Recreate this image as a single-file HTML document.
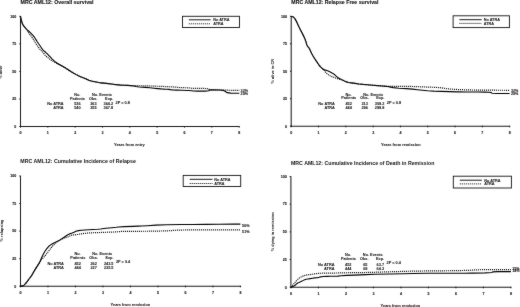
<!DOCTYPE html>
<html><head><meta charset="utf-8"><style>
html,body{margin:0;padding:0;background:#fff;overflow:hidden}
svg{display:block;will-change:transform}
</style></head><body>
<svg width="520" height="307" viewBox="0 0 520 307" style="font-family:'Liberation Sans', sans-serif">
<defs><filter id="soft" x="0" y="0" width="520" height="307" filterUnits="userSpaceOnUse" color-interpolation-filters="sRGB"><feConvolveMatrix order="3" kernelMatrix="1 2 1 2 36 2 1 2 1" edgeMode="duplicate"/></filter></defs>
<g filter="url(#soft)">
<rect width="520" height="307" fill="#fff"/>
<line x1="20.50" y1="16.00" x2="20.50" y2="126.90" stroke="#1a1a1a" stroke-width="1.05" />
<line x1="20.10" y1="126.50" x2="239.44" y2="126.50" stroke="#1a1a1a" stroke-width="1.05" />
<line x1="19.30" y1="126.50" x2="20.50" y2="126.50" stroke="#111" stroke-width="1.0" />
<text x="16.30" y="127.80" font-size="3.6" text-anchor="end" font-weight="bold" fill="#111" stroke="#111" stroke-width="0.1" >0</text>
<line x1="19.30" y1="98.95" x2="20.50" y2="98.95" stroke="#111" stroke-width="1.0" />
<text x="16.30" y="100.25" font-size="3.6" text-anchor="end" font-weight="bold" fill="#111" stroke="#111" stroke-width="0.1" >25</text>
<line x1="19.30" y1="71.40" x2="20.50" y2="71.40" stroke="#111" stroke-width="1.0" />
<text x="16.30" y="72.70" font-size="3.6" text-anchor="end" font-weight="bold" fill="#111" stroke="#111" stroke-width="0.1" >50</text>
<line x1="19.30" y1="43.85" x2="20.50" y2="43.85" stroke="#111" stroke-width="1.0" />
<text x="16.30" y="45.15" font-size="3.6" text-anchor="end" font-weight="bold" fill="#111" stroke="#111" stroke-width="0.1" >75</text>
<line x1="19.30" y1="16.30" x2="20.50" y2="16.30" stroke="#111" stroke-width="1.0" />
<text x="16.30" y="17.60" font-size="3.6" text-anchor="end" font-weight="bold" fill="#111" stroke="#111" stroke-width="0.1" >100</text>
<line x1="20.50" y1="126.00" x2="20.50" y2="127.60" stroke="#111" stroke-width="1.0" />
<text x="20.50" y="133.90" font-size="3.6" text-anchor="middle" font-weight="bold" fill="#111" stroke="#111" stroke-width="0.12" >0</text>
<line x1="47.83" y1="126.00" x2="47.83" y2="127.60" stroke="#111" stroke-width="1.0" />
<text x="47.83" y="133.90" font-size="3.6" text-anchor="middle" font-weight="bold" fill="#111" stroke="#111" stroke-width="0.12" >1</text>
<line x1="75.16" y1="126.00" x2="75.16" y2="127.60" stroke="#111" stroke-width="1.0" />
<text x="75.16" y="133.90" font-size="3.6" text-anchor="middle" font-weight="bold" fill="#111" stroke="#111" stroke-width="0.12" >2</text>
<line x1="102.49" y1="126.00" x2="102.49" y2="127.60" stroke="#111" stroke-width="1.0" />
<text x="102.49" y="133.90" font-size="3.6" text-anchor="middle" font-weight="bold" fill="#111" stroke="#111" stroke-width="0.12" >3</text>
<line x1="129.82" y1="126.00" x2="129.82" y2="127.60" stroke="#111" stroke-width="1.0" />
<text x="129.82" y="133.90" font-size="3.6" text-anchor="middle" font-weight="bold" fill="#111" stroke="#111" stroke-width="0.12" >4</text>
<line x1="157.15" y1="126.00" x2="157.15" y2="127.60" stroke="#111" stroke-width="1.0" />
<text x="157.15" y="133.90" font-size="3.6" text-anchor="middle" font-weight="bold" fill="#111" stroke="#111" stroke-width="0.12" >5</text>
<line x1="184.48" y1="126.00" x2="184.48" y2="127.60" stroke="#111" stroke-width="1.0" />
<text x="184.48" y="133.90" font-size="3.6" text-anchor="middle" font-weight="bold" fill="#111" stroke="#111" stroke-width="0.12" >6</text>
<line x1="211.81" y1="126.00" x2="211.81" y2="127.60" stroke="#111" stroke-width="1.0" />
<text x="211.81" y="133.90" font-size="3.6" text-anchor="middle" font-weight="bold" fill="#111" stroke="#111" stroke-width="0.12" >7</text>
<line x1="239.14" y1="126.00" x2="239.14" y2="127.60" stroke="#111" stroke-width="1.0" />
<text x="239.14" y="133.90" font-size="3.6" text-anchor="middle" font-weight="bold" fill="#111" stroke="#111" stroke-width="0.12" >8</text>
<text x="20.50" y="3.80" font-size="5.28" text-anchor="start" font-weight="bold" fill="#111" stroke="#111" stroke-width="0.1" >MRC AML12: Overall survival</text>
<text x="114.00" y="146.10" font-size="3.9" text-anchor="start" font-weight="bold" fill="#111" stroke="#111" stroke-width="0.06" >Years from entry</text>
<text x="2.20" y="72.10" font-size="3.9" text-anchor="middle" font-weight="bold" fill="#111" stroke="#111" stroke-width="0" transform="rotate(-90 2.20 72.10)">% alive</text>
<rect x="182.50" y="16.30" width="57.00" height="11.20" fill="#fff" stroke="#111" stroke-width="0.9"/>
<line x1="188.80" y1="19.80" x2="210.70" y2="19.80" stroke="#000" stroke-width="0.9" />
<line x1="188.80" y1="23.80" x2="210.70" y2="23.80" stroke="#000" stroke-width="0.9" stroke-dasharray="1.1 0.9"/>
<text x="213.20" y="21.20" font-size="3.8" text-anchor="start" font-weight="bold" fill="#111" stroke="#111" stroke-width="0.06" >No ATRA</text>
<text x="213.20" y="25.20" font-size="3.8" text-anchor="start" font-weight="bold" fill="#111" stroke="#111" stroke-width="0.06" >ATRA</text>
<polyline points="20.50,16.40 20.68,17.17 21.02,18.73 21.45,20.45 21.95,22.35 22.45,23.80 22.95,24.80 23.62,25.80 24.47,26.80 25.35,27.83 26.25,28.87 27.22,29.85 28.28,30.75 29.30,31.67 30.30,32.62 31.53,33.85 32.98,35.35 34.15,36.83 35.05,38.27 36.10,39.92 37.30,41.78 38.62,43.73 40.07,45.77 41.22,47.52 42.08,48.98 43.10,50.18 44.30,51.12 45.62,52.28 47.07,53.62 48.70,55.27 50.50,57.23 51.97,58.78 53.13,59.92 54.43,61.10 55.88,62.30 57.35,63.32 58.85,64.17 60.78,65.25 63.12,66.55 65.72,68.15 68.58,70.05 71.25,71.75 73.75,73.25 76.25,74.62 78.75,75.88 81.25,77.00 83.75,78.00 86.25,79.08 88.75,80.22 91.25,81.05 93.75,81.55 96.25,82.05 98.75,82.55 101.25,82.92 103.75,83.17 106.25,83.42 108.75,83.67 111.25,83.97 113.75,84.33 116.25,84.62 118.75,84.88 121.25,85.08 123.75,85.22 126.92,85.42 130.77,85.67 133.65,86.05 135.55,86.55 139.38,87.00 145.12,87.40 149.95,87.80 153.85,88.20 157.60,88.58 161.20,88.92 164.35,89.12 167.05,89.18 168.98,89.35 170.12,89.65 172.62,89.90 176.48,90.10 181.68,90.30 188.22,90.50 192.07,90.72 193.23,90.97 197.55,91.10 205.05,91.10 208.93,90.77 209.18,90.12 212.73,89.88 219.57,90.02 223.50,90.42 224.50,91.08 225.72,91.83 227.18,92.67 230.75,93.12 236.45,93.18 239.30,93.20" fill="none" stroke="#000" stroke-width="1.1" stroke-linejoin="round"  opacity="1"/>
<polyline points="20.50,16.40 20.68,17.17 21.02,18.73 21.45,20.45 21.95,22.35 22.45,23.80 22.95,24.80 23.62,25.80 24.47,26.80 25.35,27.88 26.25,29.03 27.22,30.48 28.28,32.23 29.38,33.85 30.53,35.35 31.70,36.98 32.90,38.73 34.12,40.68 35.38,42.82 36.62,44.77 37.88,46.52 39.12,48.20 40.38,49.80 41.38,50.83 42.12,51.27 43.10,52.45 44.30,54.35 45.65,55.87 47.15,57.03 48.62,58.20 50.07,59.40 51.52,60.42 52.98,61.28 54.43,62.08 55.88,62.83 57.35,63.60 58.85,64.40 60.78,65.40 63.12,66.60 65.72,68.15 68.58,70.05 71.25,71.75 73.75,73.25 76.25,74.62 78.75,75.88 81.25,77.00 83.75,78.00 86.25,79.08 88.75,80.22 91.25,81.05 93.75,81.55 96.25,82.05 98.75,82.55 101.25,82.92 103.75,83.17 106.25,83.42 108.75,83.67 111.25,83.97 113.75,84.33 116.25,84.62 118.75,84.88 121.25,85.08 123.75,85.22 126.92,85.40 130.77,85.60 133.65,85.70 135.55,85.70 139.38,85.75 145.12,85.85 152.25,86.05 160.75,86.35 167.75,86.65 173.25,86.95 176.60,87.20 177.80,87.40 181.30,87.60 187.10,87.80 190.55,88.03 191.65,88.28 196.35,88.43 204.65,88.47 208.93,88.80 209.18,89.40 212.73,89.80 219.57,90.00 224.00,90.12 226.00,90.18 230.07,90.25 236.23,90.35 239.30,90.40" fill="none" stroke="#111" stroke-width="1.2" stroke-linejoin="round" stroke-dasharray="1.1 0.9" opacity="1"/>
<text x="240.60" y="91.80" font-size="3.7" text-anchor="start" font-weight="bold" fill="#111" stroke="#111" stroke-width="0.06" >32%</text>
<text x="240.60" y="94.90" font-size="3.7" text-anchor="start" font-weight="bold" fill="#111" stroke="#111" stroke-width="0.06" >29%</text>
<text x="77.30" y="95.80" font-size="3.85" text-anchor="middle" font-weight="bold" fill="#111" stroke="#111" stroke-width="0.06" >No.</text>
<text x="77.50" y="99.50" font-size="3.85" text-anchor="middle" font-weight="bold" fill="#111" stroke="#111" stroke-width="0.06" >Patients</text>
<text x="101.90" y="95.80" font-size="3.85" text-anchor="middle" font-weight="bold" fill="#111" stroke="#111" stroke-width="0.06" >No. Events</text>
<text x="93.30" y="99.50" font-size="3.85" text-anchor="middle" font-weight="bold" fill="#111" stroke="#111" stroke-width="0.06" >Obs.</text>
<text x="113.20" y="99.50" font-size="3.85" text-anchor="end" font-weight="bold" fill="#111" stroke="#111" stroke-width="0.06" >Exp.</text>
<text x="63.60" y="105.20" font-size="3.85" text-anchor="end" font-weight="bold" fill="#111" stroke="#111" stroke-width="0.06" >No ATRA</text>
<text x="63.60" y="109.40" font-size="3.85" text-anchor="end" font-weight="bold" fill="#111" stroke="#111" stroke-width="0.06" >ATRA</text>
<text x="80.60" y="105.20" font-size="3.85" text-anchor="end" font-weight="bold" fill="#111" stroke="#111" stroke-width="0.06" >536</text>
<text x="96.60" y="105.20" font-size="3.85" text-anchor="end" font-weight="bold" fill="#111" stroke="#111" stroke-width="0.06" >363</text>
<text x="113.20" y="105.20" font-size="3.85" text-anchor="end" font-weight="bold" fill="#111" stroke="#111" stroke-width="0.06" >364.2</text>
<text x="80.60" y="109.40" font-size="3.85" text-anchor="end" font-weight="bold" fill="#111" stroke="#111" stroke-width="0.06" >540</text>
<text x="96.60" y="109.40" font-size="3.85" text-anchor="end" font-weight="bold" fill="#111" stroke="#111" stroke-width="0.06" >355</text>
<text x="113.20" y="109.40" font-size="3.85" text-anchor="end" font-weight="bold" fill="#111" stroke="#111" stroke-width="0.06" >367.8</text>
<text x="115.60" y="103.80" font-size="3.85" text-anchor="start" font-weight="bold" fill="#111" stroke="#111" stroke-width="0.06" >2P = 0.8</text>
<line x1="291.20" y1="16.00" x2="291.20" y2="126.60" stroke="#1a1a1a" stroke-width="1.05" />
<line x1="290.80" y1="126.20" x2="509.98" y2="126.20" stroke="#1a1a1a" stroke-width="1.05" />
<line x1="290.00" y1="126.20" x2="291.20" y2="126.20" stroke="#111" stroke-width="1.0" />
<text x="287.00" y="127.50" font-size="3.6" text-anchor="end" font-weight="bold" fill="#111" stroke="#111" stroke-width="0.1" >0</text>
<line x1="290.00" y1="98.72" x2="291.20" y2="98.72" stroke="#111" stroke-width="1.0" />
<text x="287.00" y="100.02" font-size="3.6" text-anchor="end" font-weight="bold" fill="#111" stroke="#111" stroke-width="0.1" >25</text>
<line x1="290.00" y1="71.25" x2="291.20" y2="71.25" stroke="#111" stroke-width="1.0" />
<text x="287.00" y="72.55" font-size="3.6" text-anchor="end" font-weight="bold" fill="#111" stroke="#111" stroke-width="0.1" >50</text>
<line x1="290.00" y1="43.77" x2="291.20" y2="43.77" stroke="#111" stroke-width="1.0" />
<text x="287.00" y="45.07" font-size="3.6" text-anchor="end" font-weight="bold" fill="#111" stroke="#111" stroke-width="0.1" >75</text>
<line x1="290.00" y1="16.30" x2="291.20" y2="16.30" stroke="#111" stroke-width="1.0" />
<text x="287.00" y="17.60" font-size="3.6" text-anchor="end" font-weight="bold" fill="#111" stroke="#111" stroke-width="0.1" >100</text>
<line x1="291.20" y1="125.70" x2="291.20" y2="127.30" stroke="#111" stroke-width="1.0" />
<text x="291.20" y="133.60" font-size="3.6" text-anchor="middle" font-weight="bold" fill="#111" stroke="#111" stroke-width="0.12" >0</text>
<line x1="318.51" y1="125.70" x2="318.51" y2="127.30" stroke="#111" stroke-width="1.0" />
<text x="318.51" y="133.60" font-size="3.6" text-anchor="middle" font-weight="bold" fill="#111" stroke="#111" stroke-width="0.12" >1</text>
<line x1="345.82" y1="125.70" x2="345.82" y2="127.30" stroke="#111" stroke-width="1.0" />
<text x="345.82" y="133.60" font-size="3.6" text-anchor="middle" font-weight="bold" fill="#111" stroke="#111" stroke-width="0.12" >2</text>
<line x1="373.13" y1="125.70" x2="373.13" y2="127.30" stroke="#111" stroke-width="1.0" />
<text x="373.13" y="133.60" font-size="3.6" text-anchor="middle" font-weight="bold" fill="#111" stroke="#111" stroke-width="0.12" >3</text>
<line x1="400.44" y1="125.70" x2="400.44" y2="127.30" stroke="#111" stroke-width="1.0" />
<text x="400.44" y="133.60" font-size="3.6" text-anchor="middle" font-weight="bold" fill="#111" stroke="#111" stroke-width="0.12" >4</text>
<line x1="427.75" y1="125.70" x2="427.75" y2="127.30" stroke="#111" stroke-width="1.0" />
<text x="427.75" y="133.60" font-size="3.6" text-anchor="middle" font-weight="bold" fill="#111" stroke="#111" stroke-width="0.12" >5</text>
<line x1="455.06" y1="125.70" x2="455.06" y2="127.30" stroke="#111" stroke-width="1.0" />
<text x="455.06" y="133.60" font-size="3.6" text-anchor="middle" font-weight="bold" fill="#111" stroke="#111" stroke-width="0.12" >6</text>
<line x1="482.37" y1="125.70" x2="482.37" y2="127.30" stroke="#111" stroke-width="1.0" />
<text x="482.37" y="133.60" font-size="3.6" text-anchor="middle" font-weight="bold" fill="#111" stroke="#111" stroke-width="0.12" >7</text>
<line x1="509.68" y1="125.70" x2="509.68" y2="127.30" stroke="#111" stroke-width="1.0" />
<text x="509.68" y="133.60" font-size="3.6" text-anchor="middle" font-weight="bold" fill="#111" stroke="#111" stroke-width="0.12" >8</text>
<text x="291.30" y="3.80" font-size="5.22" text-anchor="start" font-weight="bold" fill="#111" stroke="#111" stroke-width="0.1" >MRC AML12: Relapse Free survival</text>
<text x="381.00" y="145.70" font-size="3.9" text-anchor="start" font-weight="bold" fill="#111" stroke="#111" stroke-width="0.06" >Years from remission</text>
<text x="274.10" y="71.20" font-size="3.9" text-anchor="middle" font-weight="bold" fill="#111" stroke="#111" stroke-width="0" transform="rotate(-90 274.10 71.20)">% alive in CR</text>
<rect x="453.10" y="15.80" width="56.30" height="11.80" fill="#fff" stroke="#111" stroke-width="0.9"/>
<line x1="459.40" y1="19.70" x2="481.70" y2="19.70" stroke="#000" stroke-width="0.9" />
<line x1="459.40" y1="23.40" x2="481.70" y2="23.40" stroke="#000" stroke-width="0.9" stroke-dasharray="1.1 0.9"/>
<text x="483.70" y="21.10" font-size="3.8" text-anchor="start" font-weight="bold" fill="#111" stroke="#111" stroke-width="0.06" >No ATRA</text>
<text x="483.70" y="24.80" font-size="3.8" text-anchor="start" font-weight="bold" fill="#111" stroke="#111" stroke-width="0.06" >ATRA</text>
<polyline points="291.20,16.40 291.75,16.52 292.85,16.77 293.90,17.52 294.90,18.77 295.88,20.38 296.83,22.33 297.93,24.65 299.18,27.35 300.40,29.80 301.60,32.00 302.85,34.48 304.15,37.23 305.15,39.53 305.85,41.38 306.35,43.05 306.65,44.55 307.43,46.05 308.68,47.55 309.78,49.40 310.72,51.60 311.82,53.80 313.07,56.00 314.42,58.20 315.88,60.40 317.35,62.60 318.85,64.80 320.08,66.38 321.02,67.32 322.07,68.27 323.23,69.23 324.53,69.85 325.97,70.15 327.57,70.72 329.32,71.58 331.10,72.47 332.90,73.43 334.78,74.80 336.72,76.60 338.65,78.03 340.55,79.07 342.88,80.27 345.62,81.62 348.50,82.50 351.50,82.90 354.95,83.38 358.85,83.93 363.10,84.40 367.70,84.80 372.50,85.20 377.50,85.60 382.00,85.97 386.00,86.33 389.75,86.88 393.25,87.62 398.75,88.20 406.25,88.60 412.50,89.10 417.50,89.70 422.50,90.25 427.50,90.75 433.75,91.12 441.25,91.38 449.25,91.62 457.75,91.88 467.25,92.00 477.75,92.00 485.00,92.08 489.00,92.22 491.32,92.60 491.98,93.20 496.62,93.50 505.28,93.50 509.60,93.50" fill="none" stroke="#000" stroke-width="1.1" stroke-linejoin="round"  opacity="1"/>
<polyline points="291.20,16.40 291.75,16.52 292.85,16.77 293.90,17.52 294.90,18.77 295.88,20.38 296.83,22.33 297.93,24.65 299.18,27.35 300.40,29.80 301.60,32.00 302.85,34.48 304.15,37.23 305.15,39.53 305.85,41.38 306.35,43.05 306.65,44.55 307.43,46.05 308.68,47.55 309.78,49.40 310.72,51.60 311.82,53.80 313.07,56.00 314.42,58.20 315.88,60.40 317.35,62.60 318.85,64.80 320.08,66.38 321.02,67.32 322.07,68.32 323.23,69.38 324.23,70.50 325.07,71.70 326.25,72.97 327.75,74.33 329.23,75.35 330.67,76.05 332.00,76.65 333.20,77.15 334.78,77.75 336.72,78.45 338.65,79.00 340.55,79.40 342.88,80.27 345.62,81.62 348.50,82.50 351.50,82.90 354.95,83.38 358.85,83.93 363.10,84.40 367.70,84.80 372.50,85.20 377.50,85.60 382.00,85.95 386.00,86.25 389.75,86.38 393.25,86.32 399.25,86.32 407.75,86.38 414.50,86.53 419.50,86.78 426.50,87.05 435.50,87.35 442.00,87.88 446.00,88.62 451.50,89.17 458.50,89.53 465.50,89.80 472.50,90.00 484.40,90.15 501.20,90.25 509.60,90.30" fill="none" stroke="#111" stroke-width="1.2" stroke-linejoin="round" stroke-dasharray="1.1 0.9" opacity="1"/>
<text x="510.90" y="92.00" font-size="3.7" text-anchor="start" font-weight="bold" fill="#111" stroke="#111" stroke-width="0.06" >32%</text>
<text x="510.90" y="95.00" font-size="3.7" text-anchor="start" font-weight="bold" fill="#111" stroke="#111" stroke-width="0.06" >29%</text>
<text x="348.50" y="95.55" font-size="3.85" text-anchor="middle" font-weight="bold" fill="#111" stroke="#111" stroke-width="0.06" >No.</text>
<text x="348.70" y="99.25" font-size="3.85" text-anchor="middle" font-weight="bold" fill="#111" stroke="#111" stroke-width="0.06" >Patients</text>
<text x="373.10" y="95.55" font-size="3.85" text-anchor="middle" font-weight="bold" fill="#111" stroke="#111" stroke-width="0.06" >No. Events</text>
<text x="364.50" y="99.25" font-size="3.85" text-anchor="middle" font-weight="bold" fill="#111" stroke="#111" stroke-width="0.06" >Obs.</text>
<text x="384.40" y="99.25" font-size="3.85" text-anchor="end" font-weight="bold" fill="#111" stroke="#111" stroke-width="0.06" >Exp.</text>
<text x="334.80" y="104.95" font-size="3.85" text-anchor="end" font-weight="bold" fill="#111" stroke="#111" stroke-width="0.06" >No ATRA</text>
<text x="334.80" y="109.15" font-size="3.85" text-anchor="end" font-weight="bold" fill="#111" stroke="#111" stroke-width="0.06" >ATRA</text>
<text x="351.80" y="104.95" font-size="3.85" text-anchor="end" font-weight="bold" fill="#111" stroke="#111" stroke-width="0.06" >452</text>
<text x="367.80" y="104.95" font-size="3.85" text-anchor="end" font-weight="bold" fill="#111" stroke="#111" stroke-width="0.06" >313</text>
<text x="384.40" y="104.95" font-size="3.85" text-anchor="end" font-weight="bold" fill="#111" stroke="#111" stroke-width="0.06" >309.2</text>
<text x="351.80" y="109.15" font-size="3.85" text-anchor="end" font-weight="bold" fill="#111" stroke="#111" stroke-width="0.06" >444</text>
<text x="367.80" y="109.15" font-size="3.85" text-anchor="end" font-weight="bold" fill="#111" stroke="#111" stroke-width="0.06" >296</text>
<text x="384.40" y="109.15" font-size="3.85" text-anchor="end" font-weight="bold" fill="#111" stroke="#111" stroke-width="0.06" >299.8</text>
<text x="386.80" y="103.55" font-size="3.85" text-anchor="start" font-weight="bold" fill="#111" stroke="#111" stroke-width="0.06" >2P = 0.8</text>
<line x1="20.50" y1="175.70" x2="20.50" y2="286.60" stroke="#1a1a1a" stroke-width="1.05" />
<line x1="20.10" y1="286.20" x2="240.72" y2="286.20" stroke="#1a1a1a" stroke-width="1.05" />
<line x1="19.30" y1="286.20" x2="20.50" y2="286.20" stroke="#111" stroke-width="1.0" />
<text x="16.30" y="287.50" font-size="3.6" text-anchor="end" font-weight="bold" fill="#111" stroke="#111" stroke-width="0.1" >0</text>
<line x1="19.30" y1="258.65" x2="20.50" y2="258.65" stroke="#111" stroke-width="1.0" />
<text x="16.30" y="259.95" font-size="3.6" text-anchor="end" font-weight="bold" fill="#111" stroke="#111" stroke-width="0.1" >25</text>
<line x1="19.30" y1="231.10" x2="20.50" y2="231.10" stroke="#111" stroke-width="1.0" />
<text x="16.30" y="232.40" font-size="3.6" text-anchor="end" font-weight="bold" fill="#111" stroke="#111" stroke-width="0.1" >50</text>
<line x1="19.30" y1="203.55" x2="20.50" y2="203.55" stroke="#111" stroke-width="1.0" />
<text x="16.30" y="204.85" font-size="3.6" text-anchor="end" font-weight="bold" fill="#111" stroke="#111" stroke-width="0.1" >75</text>
<line x1="19.30" y1="176.00" x2="20.50" y2="176.00" stroke="#111" stroke-width="1.0" />
<text x="16.30" y="177.30" font-size="3.6" text-anchor="end" font-weight="bold" fill="#111" stroke="#111" stroke-width="0.1" >100</text>
<line x1="20.50" y1="285.70" x2="20.50" y2="287.30" stroke="#111" stroke-width="1.0" />
<text x="20.50" y="293.60" font-size="3.6" text-anchor="middle" font-weight="bold" fill="#111" stroke="#111" stroke-width="0.12" >0</text>
<line x1="47.99" y1="285.70" x2="47.99" y2="287.30" stroke="#111" stroke-width="1.0" />
<text x="47.99" y="293.60" font-size="3.6" text-anchor="middle" font-weight="bold" fill="#111" stroke="#111" stroke-width="0.12" >1</text>
<line x1="75.48" y1="285.70" x2="75.48" y2="287.30" stroke="#111" stroke-width="1.0" />
<text x="75.48" y="293.60" font-size="3.6" text-anchor="middle" font-weight="bold" fill="#111" stroke="#111" stroke-width="0.12" >2</text>
<line x1="102.97" y1="285.70" x2="102.97" y2="287.30" stroke="#111" stroke-width="1.0" />
<text x="102.97" y="293.60" font-size="3.6" text-anchor="middle" font-weight="bold" fill="#111" stroke="#111" stroke-width="0.12" >3</text>
<line x1="130.46" y1="285.70" x2="130.46" y2="287.30" stroke="#111" stroke-width="1.0" />
<text x="130.46" y="293.60" font-size="3.6" text-anchor="middle" font-weight="bold" fill="#111" stroke="#111" stroke-width="0.12" >4</text>
<line x1="157.95" y1="285.70" x2="157.95" y2="287.30" stroke="#111" stroke-width="1.0" />
<text x="157.95" y="293.60" font-size="3.6" text-anchor="middle" font-weight="bold" fill="#111" stroke="#111" stroke-width="0.12" >5</text>
<line x1="185.44" y1="285.70" x2="185.44" y2="287.30" stroke="#111" stroke-width="1.0" />
<text x="185.44" y="293.60" font-size="3.6" text-anchor="middle" font-weight="bold" fill="#111" stroke="#111" stroke-width="0.12" >6</text>
<line x1="212.93" y1="285.70" x2="212.93" y2="287.30" stroke="#111" stroke-width="1.0" />
<text x="212.93" y="293.60" font-size="3.6" text-anchor="middle" font-weight="bold" fill="#111" stroke="#111" stroke-width="0.12" >7</text>
<line x1="240.42" y1="285.70" x2="240.42" y2="287.30" stroke="#111" stroke-width="1.0" />
<text x="240.42" y="293.60" font-size="3.6" text-anchor="middle" font-weight="bold" fill="#111" stroke="#111" stroke-width="0.12" >8</text>
<text x="20.30" y="163.10" font-size="5.26" text-anchor="start" font-weight="bold" fill="#111" stroke="#111" stroke-width="0.0" >MRC AML12: Cumulative Incidence of Relapse</text>
<text x="110.60" y="306.10" font-size="3.9" text-anchor="start" font-weight="bold" fill="#111" stroke="#111" stroke-width="0.06" >Years from remission</text>
<text x="2.90" y="230.50" font-size="3.9" text-anchor="middle" font-weight="bold" fill="#111" stroke="#111" stroke-width="0" transform="rotate(-90 2.90 230.50)">% relapsing</text>
<rect x="183.20" y="175.40" width="57.50" height="11.10" fill="#fff" stroke="#111" stroke-width="0.9"/>
<line x1="189.70" y1="179.30" x2="212.50" y2="179.30" stroke="#000" stroke-width="0.9" />
<line x1="189.70" y1="183.50" x2="212.50" y2="183.50" stroke="#000" stroke-width="0.9" stroke-dasharray="1.1 0.9"/>
<text x="214.30" y="180.70" font-size="3.8" text-anchor="start" font-weight="bold" fill="#111" stroke="#111" stroke-width="0.06" >No ATRA</text>
<text x="214.30" y="184.90" font-size="3.8" text-anchor="start" font-weight="bold" fill="#111" stroke="#111" stroke-width="0.06" >ATRA</text>
<polyline points="20.50,286.30 21.27,286.15 22.83,285.85 24.30,284.90 25.70,283.30 27.07,281.60 28.43,279.80 29.80,277.97 31.20,276.12 32.57,273.95 33.93,271.45 35.28,269.17 36.62,267.12 37.88,265.20 39.03,263.40 40.08,261.35 41.02,259.05 42.17,256.52 43.53,253.78 45.13,251.05 46.97,248.35 48.80,246.30 50.60,244.90 52.42,243.75 54.28,242.85 56.10,241.95 57.90,241.05 59.95,239.90 62.25,238.50 64.10,237.30 65.50,236.30 66.95,235.33 68.45,234.38 70.18,233.62 72.12,233.08 74.05,232.30 75.95,231.30 78.45,230.63 81.55,230.27 85.02,230.00 88.88,229.80 93.10,229.57 97.70,229.32 100.75,229.02 102.25,228.68 106.00,228.25 112.00,227.75 116.25,227.32 118.75,226.98 124.25,226.65 132.75,226.35 138.50,226.15 141.50,226.05 147.25,225.70 155.75,225.10 166.75,224.73 180.25,224.57 193.25,224.45 205.75,224.35 219.10,224.25 233.30,224.15 240.40,224.10" fill="none" stroke="#000" stroke-width="1.1" stroke-linejoin="round"  opacity="1"/>
<polyline points="20.50,286.30 21.27,286.15 22.83,285.85 24.30,284.90 25.70,283.30 27.07,281.60 28.43,279.80 29.80,277.97 31.20,276.12 32.57,273.95 33.93,271.45 35.28,269.17 36.62,267.12 37.88,265.20 39.03,263.40 40.08,261.75 41.02,260.25 42.00,259.00 43.00,258.00 44.00,256.95 45.00,255.85 46.12,254.48 47.38,252.82 48.62,251.12 49.88,249.38 51.12,247.75 52.38,246.25 53.62,244.88 54.88,243.62 56.25,242.45 57.75,241.35 59.73,240.15 62.17,238.85 64.47,237.90 66.62,237.30 68.65,236.53 70.55,235.57 72.67,235.00 75.03,234.80 77.93,234.40 81.38,233.80 85.02,233.32 88.88,232.98 93.10,232.73 97.70,232.57 104.75,232.32 114.25,231.98 119.50,231.68 120.50,231.43 125.00,231.30 133.00,231.30 141.00,231.28 149.00,231.22 157.25,231.10 165.75,230.90 171.25,230.65 173.75,230.35 178.00,230.12 184.00,229.98 200.35,229.90 227.05,229.90 240.40,229.90" fill="none" stroke="#111" stroke-width="1.2" stroke-linejoin="round" stroke-dasharray="1.1 0.9" opacity="1"/>
<text x="242.10" y="226.70" font-size="3.7" text-anchor="start" font-weight="bold" fill="#111" stroke="#111" stroke-width="0.06" >56%</text>
<text x="242.10" y="233.40" font-size="3.7" text-anchor="start" font-weight="bold" fill="#111" stroke="#111" stroke-width="0.06" >51%</text>
<text x="77.60" y="255.40" font-size="3.85" text-anchor="middle" font-weight="bold" fill="#111" stroke="#111" stroke-width="0.06" >No.</text>
<text x="77.80" y="259.10" font-size="3.85" text-anchor="middle" font-weight="bold" fill="#111" stroke="#111" stroke-width="0.06" >Patients</text>
<text x="102.20" y="255.40" font-size="3.85" text-anchor="middle" font-weight="bold" fill="#111" stroke="#111" stroke-width="0.06" >No. Events</text>
<text x="93.60" y="259.10" font-size="3.85" text-anchor="middle" font-weight="bold" fill="#111" stroke="#111" stroke-width="0.06" >Obs.</text>
<text x="113.50" y="259.10" font-size="3.85" text-anchor="end" font-weight="bold" fill="#111" stroke="#111" stroke-width="0.06" >Exp.</text>
<text x="63.90" y="264.80" font-size="3.85" text-anchor="end" font-weight="bold" fill="#111" stroke="#111" stroke-width="0.06" >No ATRA</text>
<text x="63.90" y="269.00" font-size="3.85" text-anchor="end" font-weight="bold" fill="#111" stroke="#111" stroke-width="0.06" >ATRA</text>
<text x="80.90" y="264.80" font-size="3.85" text-anchor="end" font-weight="bold" fill="#111" stroke="#111" stroke-width="0.06" >452</text>
<text x="96.90" y="264.80" font-size="3.85" text-anchor="end" font-weight="bold" fill="#111" stroke="#111" stroke-width="0.06" >262</text>
<text x="113.50" y="264.80" font-size="3.85" text-anchor="end" font-weight="bold" fill="#111" stroke="#111" stroke-width="0.06" >243.5</text>
<text x="80.90" y="269.00" font-size="3.85" text-anchor="end" font-weight="bold" fill="#111" stroke="#111" stroke-width="0.06" >444</text>
<text x="96.90" y="269.00" font-size="3.85" text-anchor="end" font-weight="bold" fill="#111" stroke="#111" stroke-width="0.06" >227</text>
<text x="113.50" y="269.00" font-size="3.85" text-anchor="end" font-weight="bold" fill="#111" stroke="#111" stroke-width="0.06" >235.5</text>
<text x="115.90" y="263.40" font-size="3.85" text-anchor="start" font-weight="bold" fill="#111" stroke="#111" stroke-width="0.06" >2P = 0.4</text>
<line x1="290.90" y1="176.20" x2="290.90" y2="287.60" stroke="#1a1a1a" stroke-width="1.05" />
<line x1="290.50" y1="287.20" x2="511.20" y2="287.20" stroke="#1a1a1a" stroke-width="1.05" />
<line x1="289.70" y1="287.20" x2="290.90" y2="287.20" stroke="#111" stroke-width="1.0" />
<text x="286.70" y="288.50" font-size="3.6" text-anchor="end" font-weight="bold" fill="#111" stroke="#111" stroke-width="0.1" >0</text>
<line x1="289.70" y1="259.52" x2="290.90" y2="259.52" stroke="#111" stroke-width="1.0" />
<text x="286.70" y="260.82" font-size="3.6" text-anchor="end" font-weight="bold" fill="#111" stroke="#111" stroke-width="0.1" >25</text>
<line x1="289.70" y1="231.85" x2="290.90" y2="231.85" stroke="#111" stroke-width="1.0" />
<text x="286.70" y="233.15" font-size="3.6" text-anchor="end" font-weight="bold" fill="#111" stroke="#111" stroke-width="0.1" >50</text>
<line x1="289.70" y1="204.18" x2="290.90" y2="204.18" stroke="#111" stroke-width="1.0" />
<text x="286.70" y="205.48" font-size="3.6" text-anchor="end" font-weight="bold" fill="#111" stroke="#111" stroke-width="0.1" >75</text>
<line x1="289.70" y1="176.50" x2="290.90" y2="176.50" stroke="#111" stroke-width="1.0" />
<text x="286.70" y="177.80" font-size="3.6" text-anchor="end" font-weight="bold" fill="#111" stroke="#111" stroke-width="0.1" >100</text>
<line x1="290.90" y1="286.70" x2="290.90" y2="288.30" stroke="#111" stroke-width="1.0" />
<text x="290.90" y="294.60" font-size="3.6" text-anchor="middle" font-weight="bold" fill="#111" stroke="#111" stroke-width="0.12" >0</text>
<line x1="318.40" y1="286.70" x2="318.40" y2="288.30" stroke="#111" stroke-width="1.0" />
<text x="318.40" y="294.60" font-size="3.6" text-anchor="middle" font-weight="bold" fill="#111" stroke="#111" stroke-width="0.12" >1</text>
<line x1="345.90" y1="286.70" x2="345.90" y2="288.30" stroke="#111" stroke-width="1.0" />
<text x="345.90" y="294.60" font-size="3.6" text-anchor="middle" font-weight="bold" fill="#111" stroke="#111" stroke-width="0.12" >2</text>
<line x1="373.40" y1="286.70" x2="373.40" y2="288.30" stroke="#111" stroke-width="1.0" />
<text x="373.40" y="294.60" font-size="3.6" text-anchor="middle" font-weight="bold" fill="#111" stroke="#111" stroke-width="0.12" >3</text>
<line x1="400.90" y1="286.70" x2="400.90" y2="288.30" stroke="#111" stroke-width="1.0" />
<text x="400.90" y="294.60" font-size="3.6" text-anchor="middle" font-weight="bold" fill="#111" stroke="#111" stroke-width="0.12" >4</text>
<line x1="428.40" y1="286.70" x2="428.40" y2="288.30" stroke="#111" stroke-width="1.0" />
<text x="428.40" y="294.60" font-size="3.6" text-anchor="middle" font-weight="bold" fill="#111" stroke="#111" stroke-width="0.12" >5</text>
<line x1="455.90" y1="286.70" x2="455.90" y2="288.30" stroke="#111" stroke-width="1.0" />
<text x="455.90" y="294.60" font-size="3.6" text-anchor="middle" font-weight="bold" fill="#111" stroke="#111" stroke-width="0.12" >6</text>
<line x1="483.40" y1="286.70" x2="483.40" y2="288.30" stroke="#111" stroke-width="1.0" />
<text x="483.40" y="294.60" font-size="3.6" text-anchor="middle" font-weight="bold" fill="#111" stroke="#111" stroke-width="0.12" >7</text>
<line x1="510.90" y1="286.70" x2="510.90" y2="288.30" stroke="#111" stroke-width="1.0" />
<text x="510.90" y="294.60" font-size="3.6" text-anchor="middle" font-weight="bold" fill="#111" stroke="#111" stroke-width="0.12" >8</text>
<text x="291.00" y="164.60" font-size="5.23" text-anchor="start" font-weight="bold" fill="#111" stroke="#111" stroke-width="0.0" >MRC AML12: Cumulative Incidence of Death in Remission</text>
<text x="380.60" y="306.80" font-size="3.9" text-anchor="start" font-weight="bold" fill="#111" stroke="#111" stroke-width="0.06" >Years from remission</text>
<text x="273.60" y="231.80" font-size="3.9" text-anchor="middle" font-weight="bold" fill="#111" stroke="#111" stroke-width="0" transform="rotate(-90 273.60 231.80)">% dying in remission</text>
<rect x="453.30" y="176.20" width="58.10" height="11.80" fill="#fff" stroke="#111" stroke-width="0.9"/>
<line x1="459.80" y1="180.20" x2="481.90" y2="180.20" stroke="#000" stroke-width="0.9" />
<line x1="459.80" y1="183.90" x2="481.90" y2="183.90" stroke="#000" stroke-width="0.9" stroke-dasharray="1.1 0.9"/>
<text x="484.30" y="181.60" font-size="3.8" text-anchor="start" font-weight="bold" fill="#111" stroke="#111" stroke-width="0.06" >No ATRA</text>
<text x="484.30" y="185.30" font-size="3.8" text-anchor="start" font-weight="bold" fill="#111" stroke="#111" stroke-width="0.06" >ATRA</text>
<polyline points="291.00,287.20 291.25,287.15 291.75,287.05 292.80,286.57 294.40,285.73 295.77,284.73 296.93,283.57 298.07,282.80 299.23,282.40 300.55,281.82 302.05,281.07 303.40,280.38 304.60,279.72 306.15,279.25 308.05,278.95 310.15,278.60 312.45,278.20 314.75,277.90 317.05,277.70 318.97,277.35 320.53,276.85 323.23,276.53 327.07,276.38 330.75,276.30 334.25,276.30 337.75,276.10 341.25,275.70 346.75,275.38 354.25,275.12 360.50,274.88 365.50,274.62 375.50,274.32 390.50,273.98 403.00,273.68 413.00,273.43 428.00,273.28 448.00,273.22 460.00,273.20 464.00,273.20 472.38,273.10 485.12,272.90 491.93,272.50 492.77,271.90 497.62,271.60 506.47,271.60 510.90,271.60" fill="none" stroke="#000" stroke-width="1.1" stroke-linejoin="round"  opacity="1"/>
<polyline points="290.90,287.20 291.57,286.45 292.93,284.95 294.38,283.22 295.92,281.28 297.47,279.62 299.03,278.28 300.55,277.23 302.05,276.48 303.58,275.85 305.12,275.35 307.05,274.95 309.35,274.65 311.68,274.32 314.02,273.98 316.35,273.65 318.65,273.35 322.10,273.20 326.70,273.20 333.75,273.07 343.25,272.82 353.00,272.65 363.00,272.55 373.00,272.32 383.00,271.98 395.50,271.60 410.50,271.20 430.00,270.90 454.00,270.70 469.12,270.35 475.38,269.85 486.60,269.60 502.80,269.60 510.90,269.60" fill="none" stroke="#111" stroke-width="1.2" stroke-linejoin="round" stroke-dasharray="1.1 0.9" opacity="1"/>
<text x="512.20" y="269.50" font-size="3.7" text-anchor="start" font-weight="bold" fill="#111" stroke="#111" stroke-width="0.06" >15%</text>
<text x="512.20" y="272.30" font-size="3.7" text-anchor="start" font-weight="bold" fill="#111" stroke="#111" stroke-width="0.06" >14%</text>
<text x="348.20" y="256.20" font-size="3.85" text-anchor="middle" font-weight="bold" fill="#111" stroke="#111" stroke-width="0.06" >No.</text>
<text x="348.40" y="259.90" font-size="3.85" text-anchor="middle" font-weight="bold" fill="#111" stroke="#111" stroke-width="0.06" >Patients</text>
<text x="372.80" y="256.20" font-size="3.85" text-anchor="middle" font-weight="bold" fill="#111" stroke="#111" stroke-width="0.06" >No. Events</text>
<text x="364.20" y="259.90" font-size="3.85" text-anchor="middle" font-weight="bold" fill="#111" stroke="#111" stroke-width="0.06" >Obs.</text>
<text x="384.10" y="259.90" font-size="3.85" text-anchor="end" font-weight="bold" fill="#111" stroke="#111" stroke-width="0.06" >Exp.</text>
<text x="334.50" y="265.60" font-size="3.85" text-anchor="end" font-weight="bold" fill="#111" stroke="#111" stroke-width="0.06" >No ATRA</text>
<text x="334.50" y="269.80" font-size="3.85" text-anchor="end" font-weight="bold" fill="#111" stroke="#111" stroke-width="0.06" >ATRA</text>
<text x="351.50" y="265.60" font-size="3.85" text-anchor="end" font-weight="bold" fill="#111" stroke="#111" stroke-width="0.06" >452</text>
<text x="367.50" y="265.60" font-size="3.85" text-anchor="end" font-weight="bold" fill="#111" stroke="#111" stroke-width="0.06" >65</text>
<text x="384.10" y="265.60" font-size="3.85" text-anchor="end" font-weight="bold" fill="#111" stroke="#111" stroke-width="0.06" >63.7</text>
<text x="351.50" y="269.80" font-size="3.85" text-anchor="end" font-weight="bold" fill="#111" stroke="#111" stroke-width="0.06" >444</text>
<text x="367.50" y="269.80" font-size="3.85" text-anchor="end" font-weight="bold" fill="#111" stroke="#111" stroke-width="0.06" >69</text>
<text x="384.10" y="269.80" font-size="3.85" text-anchor="end" font-weight="bold" fill="#111" stroke="#111" stroke-width="0.06" >64.3</text>
<text x="386.50" y="264.20" font-size="3.85" text-anchor="start" font-weight="bold" fill="#111" stroke="#111" stroke-width="0.06" >2P = 0.4</text>
</g>
</svg>
</body></html>
